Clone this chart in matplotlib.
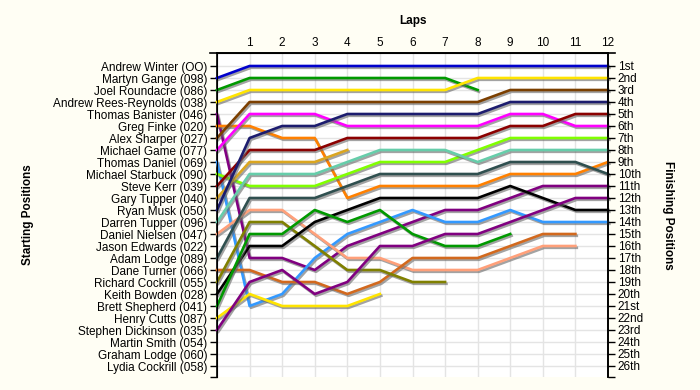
import matplotlib
matplotlib.use("Agg")
import matplotlib.pyplot as plt
import matplotlib.patheffects as pe
from matplotlib.lines import Line2D

plt.rcParams["font.family"] = ["Liberation Sans", "DejaVu Sans"]
plt.rcParams["font.size"] = 8.5

# starting grid (position 1 at the top)
drivers = [
    "Andrew Winter (OO)", "Martyn Gange (098)", "Joel Roundacre (086)",
    "Andrew Rees-Reynolds (038)", "Thomas Banister (046)", "Greg Finke (020)",
    "Alex Sharper (027)", "Michael Game (077)", "Thomas Daniel (069)",
    "Michael Starbuck (090)", "Steve Kerr (039)", "Gary Tupper (040)",
    "Ryan Musk (050)", "Darren Tupper (096)", "Daniel Nielsen (047)",
    "Jason Edwards (022)", "Adam Lodge (089)", "Dane Turner (066)",
    "Richard Cockrill (055)", "Keith Bowden (028)", "Brett Shepherd (041)",
    "Henry Cutts (087)", "Stephen Dickinson (035)", "Martin Smith (054)",
    "Graham Lodge (060)", "Lydia Cockrill (058)",
]
finish_labels = [
    "1st", "2nd", "3rd", "4th", "5th", "6th", "7th", "8th", "9th", "10th",
    "11th", "12th", "13th", "14th", "15th", "16th", "17th", "18th", "19th",
    "20th", "21st", "22nd", "23rd", "24th", "25th", "26th",
]
laps = list(range(1, 13))

# position at lap 0 (grid), lap 1, lap 2, ...
gange = [2, 1, 1, 1, 1, 1, 1, 1, 1, 1, 1, 1, 1]
roundacre = [3, 2, 2, 2, 2, 2, 2, 2, 3]
rees_reynolds = [4, 3, 3, 3, 3, 3, 3, 3, 2, 2, 2, 2, 2]
banister = [5, 17, 17, 18, 16, 15, 14, 13, 13, 12, 11, 11, 11]
finke = [6, 6, 7, 7, 12, 11, 11, 11, 11, 10, 10, 10, 9]
sharper = [7, 4, 4, 4, 4, 4, 4, 4, 4, 3, 3, 3, 3]
game = [8, 5, 5, 5, 6, 6, 6, 6, 6, 5, 5, 6, 6]
daniel = [9, 21, 20, 17, 15, 14, 13, 14, 14, 13, 14, 14, 14]
starbuck = [10, 11, 11, 11, 10, 9, 9, 9, 8, 7, 7, 7, 7]
kerr = [11, 8, 8, 8, 7, 7, 7, 7, 7, 6, 6, 5, 5]
g_tupper = [12, 9, 9, 9, 8]
musk = [13, 7, 6, 6, 5, 5, 5, 5, 5, 4, 4, 4, 4]
d_tupper = [14, 10, 10, 10, 9, 8, 8, 8, 9, 8, 8, 8, 8]
nielsen = [15, 13, 13, 15, 17, 17, 18, 18, 18, 17, 16, 16]
a_lodge = [17, 12, 12, 12, 11, 10, 10, 10, 10, 9, 9, 9, 10]
turner = [18, 18, 19, 19, 20, 19, 17, 17, 17, 16, 15, 15]
r_cockrill = [19, 14, 14, 16, 18, 18, 19, 19]
bowden = [20, 16, 16, 14, 13, 12, 12, 12, 12, 11, 12, 13, 13]
shepherd = [21, 15, 15, 13, 14, 13, 15, 16, 16, 15]
cutts = [22, 20, 21, 21, 21, 20]
dickinson = [23, 19, 18, 20, 19, 16, 16, 15, 15, 14, 13, 12, 12]

race = [gange, roundacre, rees_reynolds, banister, finke, sharper, game,
        daniel, starbuck, kerr, g_tupper, musk, d_tupper, nielsen, a_lodge,
        turner, r_cockrill, bowden, shepherd, cutts, dickinson]
colours = ["#0000CC", "#009900", "#FFE400", "#800080", "#FF8000", "#7B3F00",
           "#FF00FF", "#3399FF", "#80FF00", "#8B0000", "#DAA520", "#1C1C6E",
           "#66CDAA", "#FFA07A", "#2F4F4F", "#D2691E", "#808000", "#000000",
           "#009900", "#FFE400", "#800080"]

fig = plt.figure(figsize=(7, 3.9), dpi=100, facecolor="#FFFEF4")
ax = fig.add_axes([217 / 700, 13 / 390, 391 / 700, 324 / 390])
ax.set_facecolor("white")

shadow = [pe.SimpleLineShadow(offset=(1, -1.3), shadow_color="#666666", alpha=0.6),
          pe.Normal()]
for pos, col in zip(race, colours):
    ax.plot(range(len(pos)), pos, color=col, lw=1.9, clip_on=False,
            path_effects=shadow, zorder=3)

ax.set_xlim(0, 12)
ax.set_ylim(26 + 11 / 12, 1 - 13 / 12)

ax.xaxis.tick_top()
ax.set_xticks(laps)
ax.tick_params(axis="x", length=0, pad=3)
ax.xaxis.set_label_position("top")
ax.set_xlabel("Laps", fontweight="bold", labelpad=9)

ax.set_yticks(range(1, 27), drivers)
ax.set_yticks([26 + 11 / 12], minor=True)
ax.tick_params(axis="y", which="both", length=5, width=1, color="black", pad=2)

ax.grid(color="#E4E4E4", lw=1)
ax.set_axisbelow(True)
ax.spines["bottom"].set_visible(False)
for s in ["top", "left", "right"]:
    ax.spines[s].set_linewidth(1.2)
ax.add_line(Line2D([-7 / 391, 1 + 7 / 391], [1, 1], transform=ax.transAxes,
                   color="black", lw=1.2, clip_on=False))

ax2 = ax.twinx()
ax2.set_ylim(ax.get_ylim())
ax2.set_yticks(range(1, 27), finish_labels)
ax2.set_yticks([26 + 11 / 12], minor=True)
ax2.tick_params(axis="y", which="both", length=5, width=1, color="black", pad=2)
ax2.spines["bottom"].set_visible(False)
ax2.spines["right"].set_linewidth(1.2)

fig.text(28 / 700, 1 - 215 / 390, "Starting Positions", rotation=90,
         ha="center", va="center", fontweight="bold")
fig.text(668 / 700, 1 - 215 / 390, "Finishing Positions", rotation=270,
         ha="center", va="center", fontweight="bold")

fig.savefig("out.png", dpi=100, facecolor=fig.get_facecolor())
